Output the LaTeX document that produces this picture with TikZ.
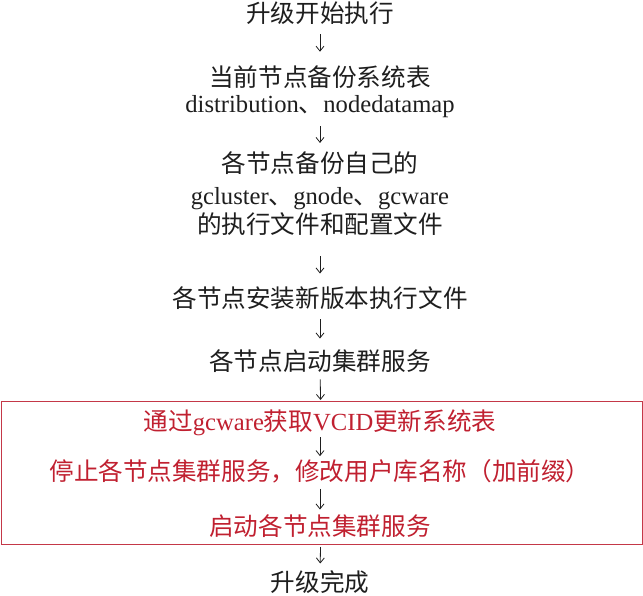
\documentclass[tikz,border=0pt]{standalone}
\usepackage{fontspec}
\setmainfont{Noto Sans CJK SC}
\newfontfamily\latin{Liberation Serif}
\usetikzlibrary{arrows.meta}
\definecolor{ink}{RGB}{30,30,30}
\definecolor{flowred}{RGB}{192,32,48}
\definecolor{boxred}{RGB}{196,56,72}

\begin{document}
\begin{tikzpicture}[x=1pt,y=-1pt,every node/.style={inner sep=0pt,outer sep=0pt,align=center,text=ink,font=\fontsize{24.6}{25.5}\selectfont},redstep/.style={text=flowred},redbox/.style={draw=boxred,line width=0.8pt,minimum width=641pt,minimum height=143pt},arr/.style={draw=ink,line width=0.8pt,-{Straight Barb[length=5pt,width=8pt]}}]
\useasboundingbox (0,0) rectangle (643,596);
\node (start) at (320,13) {升级开始执行};
\node (backsys) at (320,91.5) {当前节点备份系统表\\{\latin distribution}、{\latin nodedatamap}};
\node (backself) at (320,194) {各节点备份自己的\\[6pt]{\latin gcluster}、{\latin gnode}、{\latin gcware}\\[2.5pt]的执行文件和配置文件};
\node (install) at (320,298) {各节点安装新版本执行文件};
\node (startsvc) at (320,361) {各节点启动集群服务};
\node [redbox] (grp) at (321.5,472.5) {};
\node [redstep] (vcid) at (320,423) {通过{\latin gcware}获取{\latin VCID}更新系统表};
\node [redstep] (rename) at (320,471) {停止各节点集群服务，修改用户库名称（加前缀）};
\node [redstep] (restart) at (320,526) {启动各节点集群服务};
\node (done) at (320,582) {升级完成};
\draw [arr,shorten <=10pt,shorten >=14pt] (start) -- (backsys);
\draw [arr,shorten <=9pt,shorten >=9pt] (backsys) -- (backself);
\draw [arr,shorten <=20pt,shorten >=13pt] (backself) -- (install);
\draw [arr,shorten <=10pt,shorten >=11pt] (install) -- (startsvc);
\draw [arr,shorten <=7pt,shorten >=1pt] (startsvc) -- (grp);
\draw [arr,shorten <=1pt,shorten >=3pt] (vcid) -- (rename);
\draw [arr,shorten <=6pt,shorten >=5pt] (rename) -- (restart);
\draw [arr,shorten <=3pt,shorten >=7pt] (grp) -- (done);
\end{tikzpicture}
\end{document}
